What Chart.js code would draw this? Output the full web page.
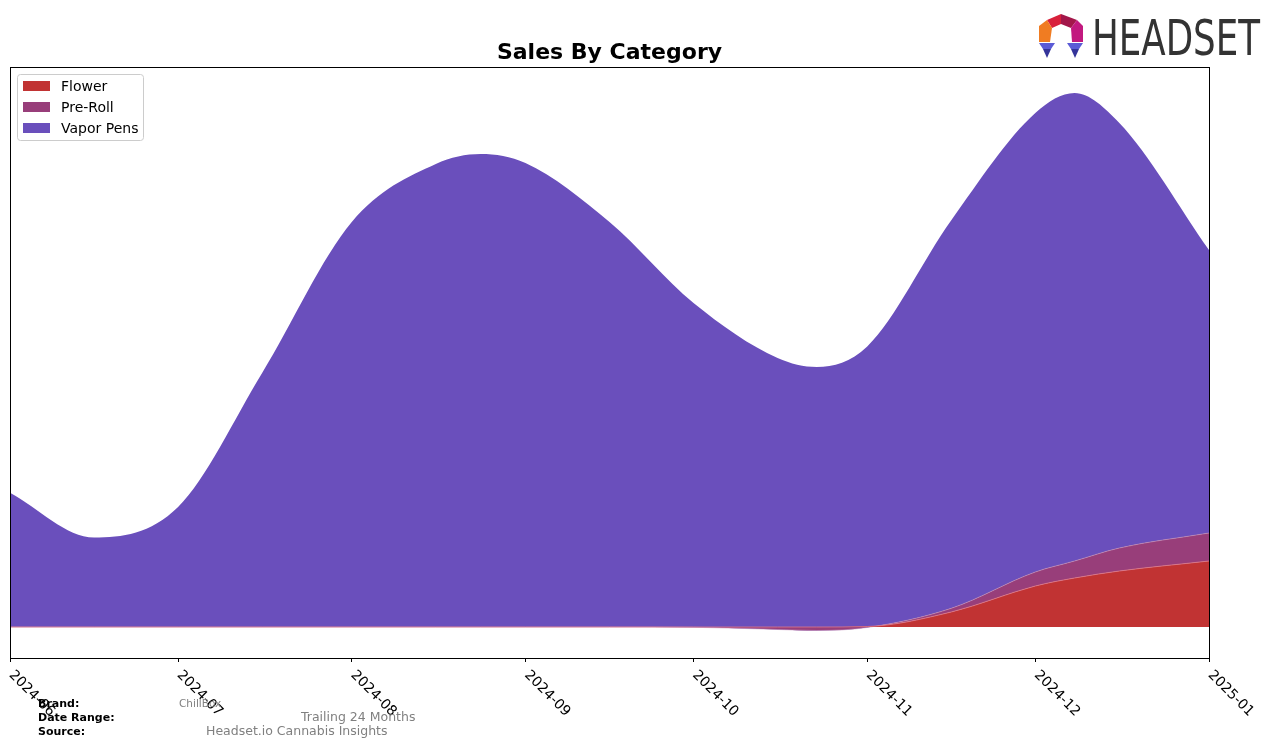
<!DOCTYPE html>
<html>
<head>
<meta charset="utf-8">
<title>Sales By Category</title>
<script src="https://cdn.jsdelivr.net/npm/chart.js@4.4.1/dist/chart.umd.min.js"></script>
<style>
    html, body { margin: 0; padding: 0; background: #fff; }
    #wrap { width: 1276px; height: 747px; }
</style>
</head>
<body>
<div id="wrap"><canvas id="salesChart" width="1276" height="747"></canvas></div>
<script>
// Fechas (inicio y mitad de cada mes, más los picos)
const sampleDates = ['2024-06-01', '2024-06-16', '2024-07-01', '2024-07-16', '2024-08-01', '2024-08-16',
    '2024-08-24', '2024-09-01', '2024-09-16', '2024-10-01', '2024-10-16', '2024-10-23', '2024-11-01',
    '2024-11-16', '2024-12-01', '2024-12-08', '2024-12-16', '2025-01-01'];

// Ventas por categoría (valores estimados del dibujo)
const flowerSales = [0, 0, 0, 0, 0, 0, 0, 0, 0, 0, 0, 0, 50, 1500, 4100, 4900, 5600, 6600];
const preRollSales = [0, 0, 0, 0, 0, 0, 0, 0, 0, -30, -250, -350, -50, 370, 1400, 1700, 2300, 2800];
const vaporPenSales = [13430, 8950, 12000, 25400, 40500, 46300, 47300, 46400, 40500, 32400, 26900, 26000,
    28000, 38800, 45900, 46800, 42500, 28300];

// Etiquetas del eje X
const monthTicks = ['2024-06', '2024-07', '2024-08', '2024-09', '2024-10', '2024-11', '2024-12', '2025-01'];

const startDay = Date.UTC(2024, 5, 1);
function dayOffset(str) {
    const p = str.split('-').map(Number);
    return Math.round((Date.UTC(p[0], p[1] - 1, p[2] || 1) - startDay) / 86400000);
}
const monthDays = monthTicks.map(dayOffset);

function toPoints(values) {
    return values.map((v, i) => ({ x: dayOffset(sampleDates[i]), y: v }));
}

// Plugin para dibujar título, logo, leyenda, marco y textos
const decorations = {
    id: 'decorations',
    afterDraw(chart) {
        const ctx = chart.ctx;
        const area = chart.chartArea;
        const xScale = chart.scales.x;
        ctx.save();

        // Marco del área
        ctx.strokeStyle = '#000';
        ctx.lineWidth = 1;
        ctx.strokeRect(Math.round(area.left) + 0.5, Math.round(area.top) + 0.5,
            Math.round(area.right - area.left), Math.round(area.bottom - area.top));

        // Título
        ctx.fillStyle = '#000';
        ctx.font = 'bold 22px "DejaVu Sans"';
        ctx.textAlign = 'center';
        ctx.textBaseline = 'alphabetic';
        ctx.fillText('Sales By Category', (area.left + area.right) / 2, 59);

        // Etiquetas del eje X giradas
        ctx.font = '14px "DejaVu Sans"';
        ctx.textAlign = 'left';
        ctx.textBaseline = 'top';
        monthTicks.forEach((label, i) => {
            const px = xScale.getPixelForValue(monthDays[i]);
            ctx.save();
            ctx.translate(px + 6, area.bottom + 10);
            ctx.rotate(Math.PI / 4);
            ctx.fillText(label, 0, 0);
            ctx.restore();
        });

        // Leyenda
        ctx.fillStyle = 'rgba(255,255,255,0.8)';
        ctx.strokeStyle = '#cccccc';
        ctx.beginPath();
        ctx.roundRect(17.5, 74.5, 126, 66, 3);
        ctx.fill();
        ctx.stroke();
        ctx.font = '14px "DejaVu Sans"';
        ctx.textBaseline = 'middle';
        chart.data.datasets.forEach((ds, i) => {
            const y = 86 + i * 21;
            ctx.fillStyle = ds.backgroundColor;
            ctx.fillRect(23, y - 5, 27, 10);
            ctx.fillStyle = '#000';
            ctx.fillText(ds.label, 61, y + 1);
        });

        // Logo HEADSET
        const shapes = [
            ['#d8213b', [[1047, 20], [1061, 14], [1061, 24], [1052, 28]]],
            ['#a3174a', [[1061, 14], [1077, 20], [1071, 28], [1061, 24]]],
            ['#f07c22', [[1039, 26], [1047, 20], [1052, 28], [1050, 42], [1039, 42]]],
            ['#c2197f', [[1077, 20], [1083, 26], [1083, 42], [1072, 42], [1071, 28]]],
            ['#5b5bd6', [[1039, 43], [1055, 43], [1051, 49], [1043, 49]]],
            ['#34349a', [[1043, 49], [1051, 49], [1047, 58]]],
            ['#5b5bd6', [[1067, 43], [1083, 43], [1079, 49], [1071, 49]]],
            ['#34349a', [[1071, 49], [1079, 49], [1075, 58]]]
        ];
        shapes.forEach(([color, pts]) => {
            ctx.fillStyle = color;
            ctx.beginPath();
            pts.forEach((p, k) => k ? ctx.lineTo(p[0], p[1]) : ctx.moveTo(p[0], p[1]));
            ctx.closePath();
            ctx.fill();
        });
        ctx.font = '50px "DejaVu Sans"';
        ctx.textBaseline = 'alphabetic';
        const w = ctx.measureText('HEADSET').width;
        ctx.save();
        ctx.translate(1092, 55);
        ctx.scale(168 / w, 1);
        ctx.fillStyle = '#333333';
        ctx.fillText('HEADSET', 0, 0);
        ctx.restore();

        // Textos del pie
        ctx.fillStyle = '#000';
        ctx.font = 'bold 11px "DejaVu Sans"';
        ctx.fillText('Brand:', 38, 707);
        ctx.fillText('Date Range:', 38, 721);
        ctx.fillText('Source:', 38, 735);
        ctx.fillStyle = '#808080';
        ctx.font = '10.5px "DejaVu Sans"';
        ctx.fillText('ChillBox', 179, 707);
        ctx.font = '12.5px "DejaVu Sans"';
        ctx.fillText('Trailing 24 Months', 301, 721);
        ctx.fillText('Headset.io Cannabis Insights', 206, 735);

        ctx.restore();
    }
};

const ctx = document.getElementById('salesChart').getContext('2d');
const salesChart = new Chart(ctx, {
    type: 'line',
    data: {
        datasets: [
            {
                label: 'Flower',
                data: toPoints(flowerSales),
                backgroundColor: 'rgb(193, 51, 51)',
                borderColor: 'rgba(220, 120, 140, 0.8)',
                borderWidth: 1,
                fill: 'origin'
            },
            {
                label: 'Pre-Roll',
                data: toPoints(preRollSales),
                backgroundColor: 'rgb(152, 62, 122)',
                borderColor: 'rgba(200, 150, 190, 0.7)',
                borderWidth: 0.8,
                fill: '-1'
            },
            {
                label: 'Vapor Pens',
                data: toPoints(vaporPenSales),
                backgroundColor: 'rgb(106, 79, 188)',
                borderWidth: 0,
                fill: '-1'
            }
        ]
    },
    options: {
        responsive: false,
        animation: false,
        layout: { padding: { left: 10, right: 67, top: 67, bottom: 85 } },
        elements: {
            line: { cubicInterpolationMode: 'monotone' },
            point: { radius: 0, hoverRadius: 0 }
        },
        scales: {
            x: {
                type: 'linear',
                min: 0,
                max: monthDays[monthDays.length - 1],
                afterBuildTicks: scale => { scale.ticks = monthDays.map(v => ({ value: v })); },
                ticks: { display: false },
                grid: { drawOnChartArea: false, drawTicks: true, tickLength: 4, color: '#000' },
                border: { display: false }
            },
            y: {
                display: false,
                stacked: true,
                min: -3100,
                max: 56000
            }
        },
        plugins: {
            legend: { display: false },
            tooltip: { enabled: false },
            title: { display: false }
        }
    },
    plugins: [decorations]
});
</script>
</body>
</html>
